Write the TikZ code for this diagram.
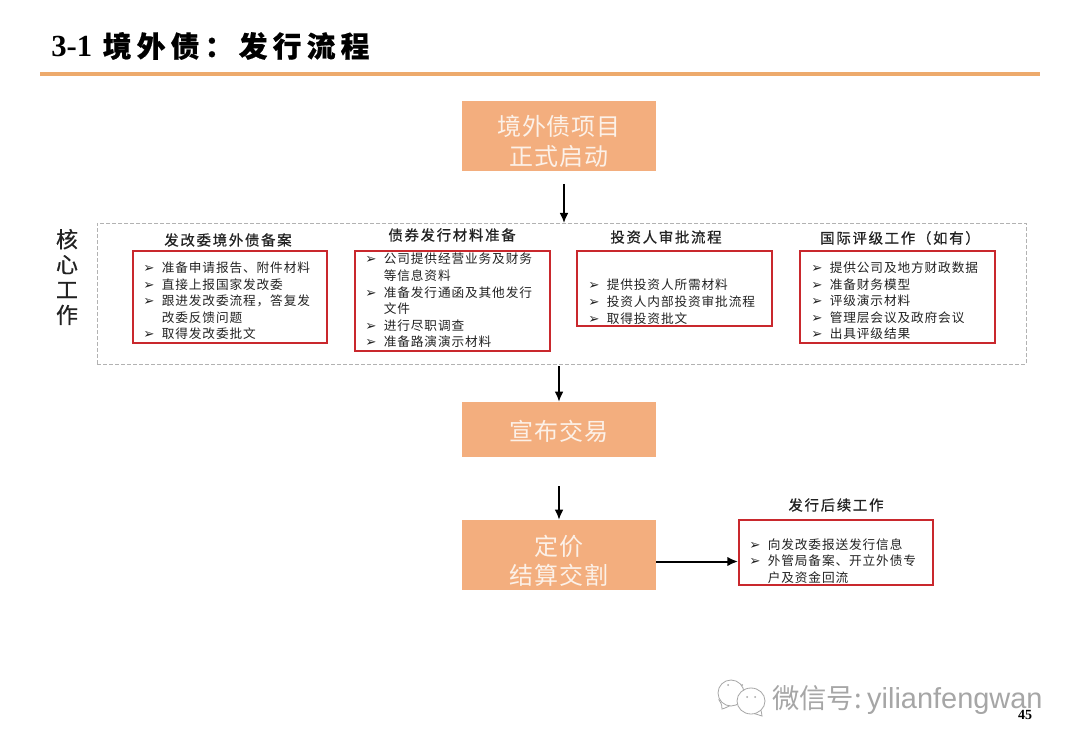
\documentclass[tikz,border=0pt]{standalone}
\usepackage{fontspec}
\usetikzlibrary{arrows.meta}
\setmainfont{Liberation Serif}
\newfontfamily\cjkbody[LetterSpace=7]{Noto Sans CJK SC}
\newfontfamily\cjkhead[LetterSpace=12,FakeBold=0.6]{Noto Sans CJK SC}
\newfontfamily\cjkbig[LetterSpace=3]{Noto Sans CJK SC}
\newfontfamily\cjktitle[LetterSpace=18,FakeBold=0.6]{Noto Sans CJK SC}
\newfontfamily\cjkcore[FakeBold=0.6]{Noto Sans CJK SC}
\newfontfamily\cjkmark{Noto Sans CJK SC}
\newfontfamily\wmlatin{Liberation Sans}
\newfontfamily\dingfont{DejaVu Sans}
\newcommand{\bul}{\makebox[13.9pt][l]{\dingfont\fontsize{10pt}{10pt}\selectfont ➢}}
\newcommand{\ind}{\hspace*{13.9pt}}
\definecolor{orangebox}{HTML}{F3AE7E}
\definecolor{ruleorange}{HTML}{EDAA6C}
\definecolor{redbox}{HTML}{C9282D}
\definecolor{inkdark}{HTML}{222222}
\definecolor{softwhite}{HTML}{FCF1E8}
\definecolor{wmgray}{HTML}{A6A6A6}
\tikzset{
  x=0.75pt,y=-0.75pt,
  stagebox/.style={fill=orangebox,draw=none,inner sep=0pt,minimum width=145.5pt,text=softwhite,align=center,
    font=\cjkbig\fontsize{18pt}{22.2pt}\selectfont},
  redpanel/.style={draw=redbox,line width=1.3pt,fill=white,inner sep=0pt},
  bodytext/.style={inner sep=0pt,anchor=north west,align=left,text=inkdark,
    font=\cjkbody\fontsize{9.5pt}{12.45pt}\selectfont},
  headtext/.style={inner sep=0pt,text=inkdark,font=\cjkhead\fontsize{10.8pt}{13pt}\selectfont},
  flowarrow/.style={draw=black,line width=1.1pt,-{Latex[length=7.5pt,width=6.5pt]}},
  heavyarrow/.style={draw=black,line width=1.5pt,-{Latex[length=8pt,width=7pt]}},
  bubble/.style={draw=wmgray,line width=0.6pt,fill=white},
}
\begin{document}
\begin{tikzpicture}
\useasboundingbox (0,0) rectangle (1080,748);
\fill[white] (0,0) rectangle (1080,748);

% title
\node[inner sep=0pt,anchor=base west,text=black] (title) at (51,57)
  {\fontsize{23pt}{26pt}\selectfont\bfseries 3-1\hspace{8pt}{\cjktitle\fontsize{21.6pt}{26pt}\selectfont 境外债：发行流程}};
\draw[draw=ruleorange,line width=3pt] (40,74) -- (1040,74);

% stages
\node[stagebox,minimum height=52.5pt] (start) at (559,136) {\rule{0pt}{23pt}境外债项目\\正式启动};
\node[stagebox,minimum height=41.25pt] (announce) at (559,429.5) {\rule{0pt}{17.5pt}宣布交易};
\node[stagebox,minimum height=52.5pt] (pricing) at (559,555) {\rule{0pt}{24pt}定价\\结算交割};

% core work frame
\node[draw=gray!60,dash pattern=on 3pt off 1.5pt,line width=0.7pt,inner sep=0pt,minimum width=696.75pt,minimum height=105.75pt] (core) at (561.5,293.5) {};
\node[inner sep=0pt,align=center,text=inkdark,font=\cjkcore\fontsize{16.5pt}{18.9pt}\selectfont] (corelabel) at (67,277) {核\\心\\工\\作};

% red panels
\node[redpanel,minimum width=145.5pt,minimum height=69pt] (p1) at (230,297) {};
\node[redpanel,minimum width=146.25pt,minimum height=75pt] (p2) at (452.5,301) {};
\node[redpanel,minimum width=146.25pt,minimum height=56.25pt] (p3) at (674.5,288.5) {};
\node[redpanel,minimum width=146.25pt,minimum height=69pt] (p4) at (897.5,297) {};
\node[redpanel,minimum width=145.5pt,minimum height=48.75pt] (p5) at (836,552.5) {};

% headers
\node[headtext] (h1) at (228,240) {发改委境外债备案};
\node[headtext] (h2) at (452,235) {债券发行材料准备};
\node[headtext] (h3) at (666,237) {投资人审批流程};
\node[headtext] (h4) at (900,238) {国际评级工作（如有）};
\node[headtext] (h5) at (836,505) {发行后续工作};

% panel texts
\node[bodytext] (t1) at (143,261.5) {\bul 准备申请报告、附件材料\\\bul 直接上报国家发改委\\\bul 跟进发改委流程，答复发\\\ind 改委反馈问题\\\bul 取得发改委批文};
\node[bodytext] (t2) at (365,253) {\bul 公司提供经营业务及财务\\\ind 等信息资料\\\bul 准备发行通函及其他发行\\\ind 文件\\\bul 进行尽职调查\\\bul 准备路演演示材料};
\node[bodytext] (t3) at (588,279) {\bul 提供投资人所需材料\\\bul 投资人内部投资审批流程\\\bul 取得投资批文};
\node[bodytext] (t4) at (811,261.5) {\bul 提供公司及地方财政数据\\\bul 准备财务模型\\\bul 评级演示材料\\\bul 管理层会议及政府会议\\\bul 出具评级结果};
\node[bodytext] (t5) at (749,538) {\bul 向发改委报送发行信息\\\bul 外管局备案、开立外债专\\\ind 户及资金回流};

% connectors
\coordinate (a1s) at (564,184);
\coordinate (a1e) at (564,223);
\draw[flowarrow] (a1s) -- (a1e);
\coordinate (a2s) at (559,366);
\draw[flowarrow] (a2s) -- (announce.north);
\coordinate (a3s) at (559,486);
\draw[flowarrow] (a3s) -- (pricing.north);
\draw[heavyarrow] (pricing.east |- p5.center) ++(0,9) coordinate (a4s) -- (p5.west |- a4s);

% watermark
\draw[bubble] (719,700) .. controls (722,704) and (722,707) .. (722,709) .. controls (726,708) and (729,706) .. (733,704) -- cycle;
\draw[bubble] (731,693) ellipse (13 and 13);
\fill[wmgray] (728,685) circle (1) (742,685) circle (1);
\draw[bubble] (762,716) .. controls (762,713) and (761,711) .. (760,708) -- (752,713) .. controls (756,714) and (759,715) .. cycle;
\draw[bubble] (751,701) ellipse (14 and 13);
\fill[wmgray] (747,697) circle (1) (755,697) circle (1);
\node[inner sep=0pt,anchor=base west,text=wmgray] (wm) at (772,708)
  {\cjkmark\fontsize{20.5pt}{24pt}\selectfont 微信号:\hspace{4pt}\wmlatin\fontsize{21.7pt}{24pt}\selectfont yilianfengwan};
\node[inner sep=0pt,text=black,font=\bfseries\fontsize{10.5pt}{12pt}\selectfont] (pageno) at (1025,715) {45};
\end{tikzpicture}
\end{document}
